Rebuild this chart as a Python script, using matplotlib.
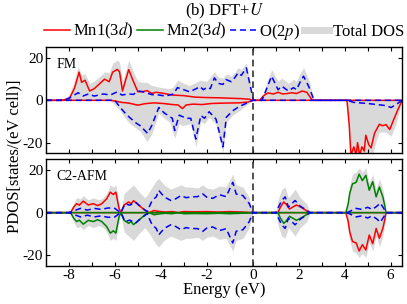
import matplotlib
matplotlib.use('Agg')
import numpy as np
import matplotlib.pyplot as plt
from matplotlib.lines import Line2D

plt.rcParams['font.family'] = ['Liberation Serif', 'DejaVu Serif']
plt.rcParams['mathtext.fontset'] = 'stix'

# ---- FM panel (energy, value) pairs ----
fm_mn1_up = [(-9, 0), (-8.3, 0), (-7.97, 1), (-7.75, 6), (-7.56, 13.3), (-7.45, 8.5), (-7.3, 9.5),
             (-7.1, 4.4), (-6.9, 5.5), (-6.7, 7.5), (-6.45, 10), (-6.25, 8.8), (-6.1, 13.3),
             (-5.9, 14.6), (-5.8, 13.5), (-5.67, 4.4), (-5.55, 9), (-5.4, 14.5), (-5.2, 9),
             (-5.0, 4), (-4.75, 4.2), (-4.6, 4.6), (-4.4, 3.3), (-4.2, 3.8), (-3.95, 3.4),
             (-3.5, 2.5), (-3.0, 2.2), (-2.5, 1.5), (-2.0, 1.3), (-1.5, 1.2), (-1.0, 1.0),
             (-0.5, 0.8), (-0.15, 0.5), (0, 0), (0.3, 0), (0.45, 2), (0.65, 3.5), (0.9, 3),
             (1.1, 3.8), (1.3, 3), (1.5, 3.2), (1.7, 3.6), (1.9, 3.2), (2.15, 4.4), (2.35, 3.8),
             (2.5, 1.5), (2.6, 0), (6.5, 0)]
fm_mn1_dn = [(-9, 0), (-6.2, 0), (-6.0, -0.3), (-5.7, -1), (-5.4, -1.3), (-5.0, -2.3), (-4.7, -1.6),
             (-4.3, -1.2), (-3.9, -1.5), (-3.5, -2), (-3.25, -2.2), (-3.06, -3.9), (-2.9, -2.2),
             (-2.6, -1.8), (-2.2, -2), (-1.8, -1.5), (-1.2, -1.3), (-0.6, -1.2), (-0.2, -0.8),
             (0, 0), (4.1, 0), (4.2, -12), (4.27, -26), (4.4, -22), (4.5, -26), (4.56, -20),
             (4.65, -26), (4.75, -22), (4.85, -24), (4.92, -16.5), (5.05, -21), (5.15, -22.5),
             (5.3, -15.5), (5.51, -11.3), (5.65, -12), (5.8, -11.5), (5.96, -13.8), (6.1, -10),
             (6.3, -4.8), (6.5, 0)]
fm_o_up = [(-9, 0), (-8.2, 0), (-8.0, 1), (-7.6, 3.6), (-7.4, 2), (-7.15, 3), (-6.9, 2), (-6.5, 3),
           (-6.2, 2.5), (-5.9, 4), (-5.7, 2.5), (-5.4, 3), (-5.2, 2.8), (-4.97, 4.4), (-4.7, 3.8),
           (-4.4, 2.7), (-4.2, 2.7), (-3.8, 2), (-3.45, 3), (-3.28, 6), (-3.0, 5), (-2.75, 4),
           (-2.48, 5.4), (-2.3, 6.5), (-2.15, 5), (-2.0, 6.2), (-1.85, 5.5), (-1.67, 10.6),
           (-1.5, 8), (-1.3, 7.5), (-1.16, 9.8), (-0.94, 8.8), (-0.79, 10.6), (-0.64, 13),
           (-0.5, 11.8), (-0.28, 15.3), (-0.15, 8.8), (0.03, 0), (0.4, 0), (0.53, 3.5),
           (0.82, 11.4), (1.1, 5), (1.26, 6.7), (1.55, 4.4), (1.77, 6), (1.9, 5), (2.07, 8.8),
           (2.21, 11.4), (2.43, 6.7), (2.67, 0), (6.5, 0)]
fm_o_dn = [(-9, 0), (-6.0, 0), (-5.8, -3), (-5.6, -5.5), (-5.4, -7.7), (-5.11, -10.5), (-4.9, -12),
           (-4.58, -15.6), (-4.4, -12), (-4.09, -3.4), (-3.85, -6), (-3.5, -8.5), (-3.4, -14.3),
           (-3.2, -7), (-2.9, -8.5), (-2.7, -8.5), (-2.48, -18.3), (-2.26, -7.2), (-2.1, -8.5),
           (-1.9, -5.4), (-1.6, -8.9), (-1.3, -22), (-1.15, -8), (-0.88, -5), (-0.6, -3),
           (-0.3, -1.5), (0, 0), (4.1, 0), (4.4, -1), (5.0, -1.5), (5.4, -2), (5.8, -2.5),
           (6.02, -3.4), (6.3, -1.5), (6.5, 0)]
fm_tot_up = [(-9, 0), (-8.3, 0), (-8.0, 2.5), (-7.8, 8), (-7.6, 16), (-7.45, 12), (-7.3, 12.5),
             (-7.1, 8), (-6.9, 9), (-6.7, 11), (-6.45, 13.5), (-6.25, 13), (-6.1, 17.5),
             (-5.9, 19), (-5.8, 18), (-5.67, 9), (-5.55, 13), (-5.4, 19), (-5.2, 13.5),
             (-5.0, 9), (-4.75, 8.5), (-4.6, 8.5), (-4.4, 7), (-4.2, 6.5), (-3.95, 6),
             (-3.6, 5.5), (-3.45, 6.5), (-3.28, 9.5), (-3.0, 8), (-2.75, 7), (-2.48, 8.5),
             (-2.3, 9.5), (-2.0, 9), (-1.67, 13.5), (-1.5, 11), (-1.3, 10.5), (-1.16, 12.5),
             (-0.94, 11.5), (-0.79, 13), (-0.64, 15.5), (-0.5, 14.5), (-0.28, 17.5),
             (-0.15, 11), (0.03, 0), (0.4, 0), (0.53, 6), (0.82, 14.5), (1.1, 9), (1.26, 10.5),
             (1.55, 8), (1.77, 10), (1.9, 9), (2.07, 13), (2.21, 15.5), (2.43, 10), (2.67, 0),
             (6.5, 0)]
fm_tot_dn = [(-9, 0), (-6.2, 0), (-5.8, -4.5), (-5.6, -7.5), (-5.4, -10.5), (-5.11, -13),
             (-4.9, -14.5), (-4.6, -19.5), (-4.4, -16), (-4.09, -6), (-3.85, -8.5), (-3.6, -10.5),
             (-3.4, -18), (-3.2, -11), (-3.06, -12), (-2.9, -11.5), (-2.7, -11), (-2.48, -22),
             (-2.26, -10), (-2.1, -11), (-1.9, -8), (-1.6, -11.5), (-1.3, -25), (-1.15, -10.5),
             (-0.88, -7), (-0.6, -5), (-0.3, -2.5), (0, 0), (4.1, 0), (4.2, -15), (4.27, -28),
             (4.5, -30), (4.9, -30), (5.22, -26), (5.37, -19), (5.51, -15), (5.8, -15),
             (6.02, -17), (6.24, -11), (6.4, -4), (6.5, 0)]

# ---- C2-AFM panel ----
afm_mn_a = [(-9, 0), (-8.0, 0), (-7.9, 0.5), (-7.8, 2.5), (-7.67, 4.2), (-7.55, 3.5), (-7.38, 5.4),
            (-7.16, 3.6), (-6.94, 4.2), (-6.75, 3.3), (-6.57, 4.2), (-6.36, 6.5), (-6.2, 9.6),
            (-6.07, 8.5), (-5.96, 9.6), (-5.82, 1.9), (-5.74, 0), (-5.6, 3.6), (-5.4, 5),
            (-5.3, 4.2), (-5.19, 5.6), (-4.97, 3.6), (-4.7, 1.1), (-4.5, 0), (-4.3, 1),
            (-4.1, 0.6), (-3.8, 0.3), (-3.5, 0.5), (-3.25, 0), (-3.0, 0.5), (-2.5, 0.4),
            (-2.0, 0.5), (-1.5, 0.3), (-1.0, 0.5), (-0.5, 0.3), (0, 0), (1.1, 0), (1.2, 2.6),
            (1.35, 5), (1.45, 4), (1.6, 1.7), (1.9, 3.6), (2.1, 2.5), (2.3, 1.2), (2.45, 0),
            (6.5, 0)]
afm_mn_b = [(-9, 0), (4.05, 0), (4.15, 4), (4.22, 9), (4.34, 13.5), (4.5, 14.2), (4.63, 18),
            (4.77, 15), (4.92, 17.5), (5.07, 10.5), (5.22, 14.5), (5.37, 7.4), (5.51, 12),
            (5.66, 7.4), (5.75, 3), (5.8, 0), (6.5, 0)]
afm_o = [(-9, 0), (-8.0, 0), (-7.8, 0.8), (-7.5, 2), (-7.2, 1.2), (-6.9, 2), (-6.6, 1.5),
         (-6.3, 2.2), (-6.0, 2), (-5.8, 0.3), (-5.74, 0), (-5.56, 4.2), (-5.35, 3.5), (-5.11, 5),
         (-4.9, 3), (-4.6, 0.5), (-4.38, 5.7), (-4.2, 7.4), (-4.09, 10.4), (-3.86, 7.4),
         (-3.57, 5.7), (-3.35, 6.5), (-3.13, 8), (-2.9, 7), (-2.7, 7.4), (-2.4, 7.5),
         (-2.18, 8.8), (-2.0, 7.2), (-1.74, 6.7), (-1.45, 8.4), (-1.16, 7.5), (-0.87, 14.2),
         (-0.72, 8.7), (-0.43, 8), (-0.15, 4.2), (0, 0), (1.0, 0), (1.26, 5.7), (1.41, 7.4),
         (1.55, 2.6), (1.84, 5.7), (2.07, 3), (2.36, 1), (2.5, 0), (4.1, 0), (4.3, 1), (4.5, 2),
         (4.75, 1.5), (5.0, 2.5), (5.2, 1.5), (5.4, 3), (5.55, 4.5), (5.7, 2), (5.8, 0), (6.5, 0)]
afm_tot = [(-9, 0), (-8.0, 0), (-7.85, 3), (-7.67, 7), (-7.5, 6.5), (-7.38, 8), (-7.16, 6),
           (-6.94, 7), (-6.7, 6), (-6.5, 7), (-6.36, 9), (-6.2, 13), (-6.07, 12), (-5.96, 13),
           (-5.82, 4), (-5.74, 0.5), (-5.6, 9), (-5.4, 11), (-5.19, 13), (-4.97, 10), (-4.7, 7),
           (-4.55, 9), (-4.38, 12), (-4.2, 15), (-4.09, 16), (-3.86, 13), (-3.57, 11),
           (-3.35, 12), (-3.13, 13), (-2.9, 12), (-2.7, 12), (-2.4, 11.5), (-2.18, 13),
           (-2.0, 11.5), (-1.74, 11), (-1.45, 12.5), (-1.16, 12), (-0.87, 18), (-0.72, 13),
           (-0.43, 12), (-0.15, 7), (0, 0), (1.0, 0), (1.1, 6), (1.26, 11), (1.41, 12),
           (1.55, 7), (1.7, 9), (1.84, 11), (2.07, 7), (2.36, 4), (2.5, 0), (4.05, 0),
           (4.2, 12), (4.34, 18), (4.5, 19), (4.63, 21), (4.77, 19), (4.92, 21), (5.07, 14),
           (5.22, 18), (5.37, 11), (5.51, 16), (5.66, 11), (5.75, 5), (5.8, 0), (6.5, 0)]

RED = '#ff0000'
GREEN = '#008000'
BLUE = '#0000ff'
GRAY = '#d9d9d9'
DASH = (0, (4, 2.5))


def xy(pairs, sign=1):
    a = np.array(pairs, dtype=float)
    return a[:, 0], sign * a[:, 1]


fig = plt.figure(figsize=(4.07, 3.04), dpi=100)
ax1 = fig.add_axes([0.113, 0.496, 0.875, 0.348])
ax2 = fig.add_axes([0.113, 0.125, 0.875, 0.351])

# FM
e, v = xy(fm_tot_up); ax1.fill_between(e, 0, v, color=GRAY, lw=0)
e, v = xy(fm_tot_dn); ax1.fill_between(e, 0, v, color=GRAY, lw=0)
ax1.plot(*xy(fm_mn1_up), color=RED, lw=1.1)
ax1.plot(*xy(fm_mn1_dn), color=RED, lw=1.1)
ax1.plot(*xy(fm_o_up), color=BLUE, lw=1.1, ls=DASH)
ax1.plot(*xy(fm_o_dn), color=BLUE, lw=1.1, ls=DASH)

# C2-AFM
e, v = xy(afm_tot); ax2.fill_between(e, 0, v, color=GRAY, lw=0)
e, v = xy(afm_tot, -1); ax2.fill_between(e, 0, v, color=GRAY, lw=0)
ax2.plot(*xy(afm_mn_a), color=RED, lw=1.1)
ax2.plot(*xy(afm_mn_b, -1), color=RED, lw=1.1)
ax2.plot(*xy(afm_mn_b), color=GREEN, lw=1.1)
ax2.plot(*xy(afm_mn_a, -1), color=GREEN, lw=1.1)
ax2.plot(*xy(afm_o), color=BLUE, lw=1.1, ls=DASH)
ax2.plot(*xy(afm_o, -1), color=BLUE, lw=1.1, ls=DASH)

for ax, name in [(ax1, 'FM'), (ax2, 'C2-AFM')]:
    ax.axvline(0, color='#333333', lw=1.2, ls=DASH)
    ax.set_xlim(-9, 6.5)
    ax.set_ylim(-25, 25)
    ax.set_yticks([-20, 0, 20])
    ax.set_yticklabels(['-20', '0', '20'])
    ax.set_xticks(np.arange(-8, 7, 1), minor=True)
    ax.set_xticks([-8, -6, -4, -2, 0, 2, 4, 6])
    ax.tick_params(which='both', direction='in', top=True, right=True, length=3, width=0.8,
                   labelsize=11, pad=2)
    for s in ax.spines.values():
        s.set_linewidth(1.0)
    ax.text(0.03, 0.9, name, transform=ax.transAxes, fontsize=10, va='top', ha='left')

ax1.tick_params(labelbottom=False)
ax2.set_xticklabels(['-8', '-6', '-4', '-2', '0', '2', '4', '6'])
ax2.set_xlabel('Energy (eV)', fontsize=12, labelpad=0)
fig.text(0.035, 0.485, 'PDOS[states/(eV cell)]', rotation=90, fontsize=12, ha='center', va='center')

handles = [Line2D([], [], color=RED, lw=1.1), Line2D([], [], color=GREEN, lw=1.1),
           Line2D([], [], color=BLUE, lw=1.1, ls=DASH),
           Line2D([], [], color=GRAY, lw=5)]
labels = [r'Mn1(3$d$)', r'Mn2(3$d$)', r'O(2$p$)', 'Total DOS']
ax1.legend(handles, labels, ncol=4, loc='lower center', bbox_to_anchor=(0.5, 1.04),
           frameon=False, fontsize=12, handlelength=1.55, handletextpad=0.2,
           columnspacing=0.2, borderaxespad=0, borderpad=0.1)
ax1.set_title(r'(b) DFT+$U$', fontsize=12, pad=23)

fig.savefig('out.png', dpi=100)
